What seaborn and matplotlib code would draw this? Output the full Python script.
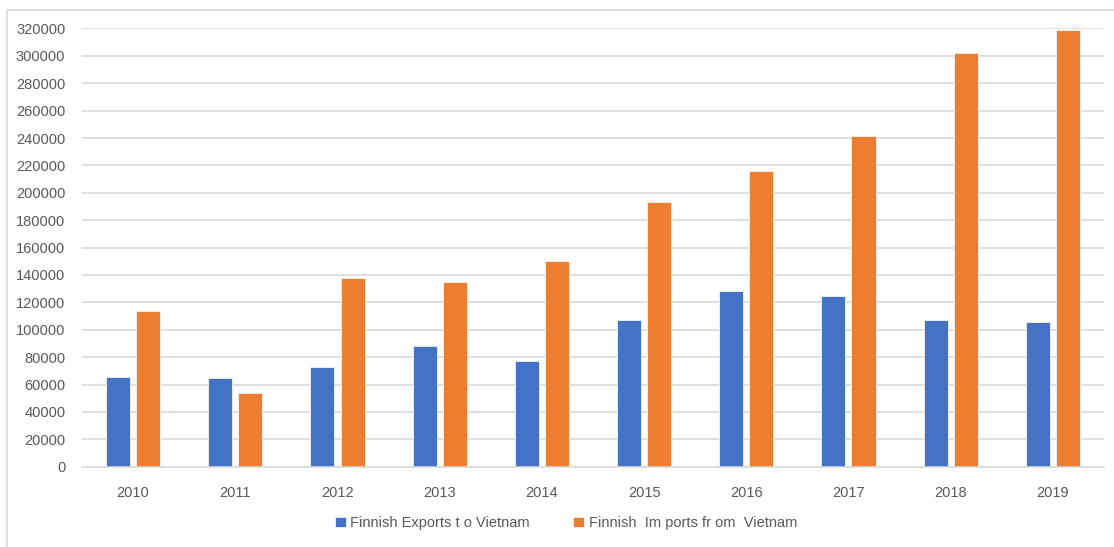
import pandas as pd
import matplotlib.pyplot as plt
import seaborn as sns
from matplotlib.patches import Rectangle

# data
years = ["2010", "2011", "2012", "2013", "2014", "2015", "2016", "2017", "2018", "2019"]
exports = [65500, 64500, 72500, 88000, 77500, 107000, 128500, 124500, 107000, 105500]
imports = [113500, 53500, 138000, 135000, 150000, 193000, 216000, 241500, 302000, 319000]
series = ["Finnish Exports t o Vietnam", "Finnish  Im ports fr om  Vietnam"]

df = pd.DataFrame({
    "year": years * 2,
    "value": exports + imports,
    "series": [series[0]] * len(years) + [series[1]] * len(years),
})

sns.set_style("white")
plt.rcParams["font.family"] = ["Liberation Sans", "DejaVu Sans"]
text_col = "#595959"

fig = plt.figure(figsize=(11.14, 5.47), dpi=100)
ax = fig.add_axes([0.0736, 0.1468, 0.9174, 0.8011])

sns.barplot(data=df, x="year", y="value", hue="series",
            palette=["#4472C4", "#ED7D31"], saturation=1, width=0.59, gap=0.2,
            edgecolor="#f3f3f3", linewidth=0.6, ax=ax)

ax.set_ylim(0, 320000)
ax.set_yticks(range(0, 320001, 20000))
ax.yaxis.grid(True, color="#d9d9d9", linewidth=1.2)
ax.set_axisbelow(True)
for s in ["top", "right", "left"]:
    ax.spines[s].set_visible(False)
ax.spines["bottom"].set_color("#d9d9d9")
ax.spines["bottom"].set_linewidth(1.2)
ax.tick_params(axis="both", length=0, labelsize=10.5, labelcolor=text_col)
ax.tick_params(axis="x", pad=14)
ax.tick_params(axis="y", pad=12)
ax.set_xlabel("")
ax.set_ylabel("")

handles, labels = ax.get_legend_handles_labels()
ax.get_legend().remove()
fig.legend(handles, labels, loc="center", bbox_to_anchor=(0.508, 0.044), ncol=2,
           frameon=False, fontsize=10.5, labelcolor=text_col, handlelength=0.75,
           handleheight=0.75, handletextpad=0.3, columnspacing=3.0)

# outer chart border
fig.patches.append(Rectangle((0.0063, -0.01), 1.0, 0.992, transform=fig.transFigure,
                             fill=False, edgecolor="#d9d9d9", linewidth=1.2))

fig.savefig("out.png", dpi=100)
